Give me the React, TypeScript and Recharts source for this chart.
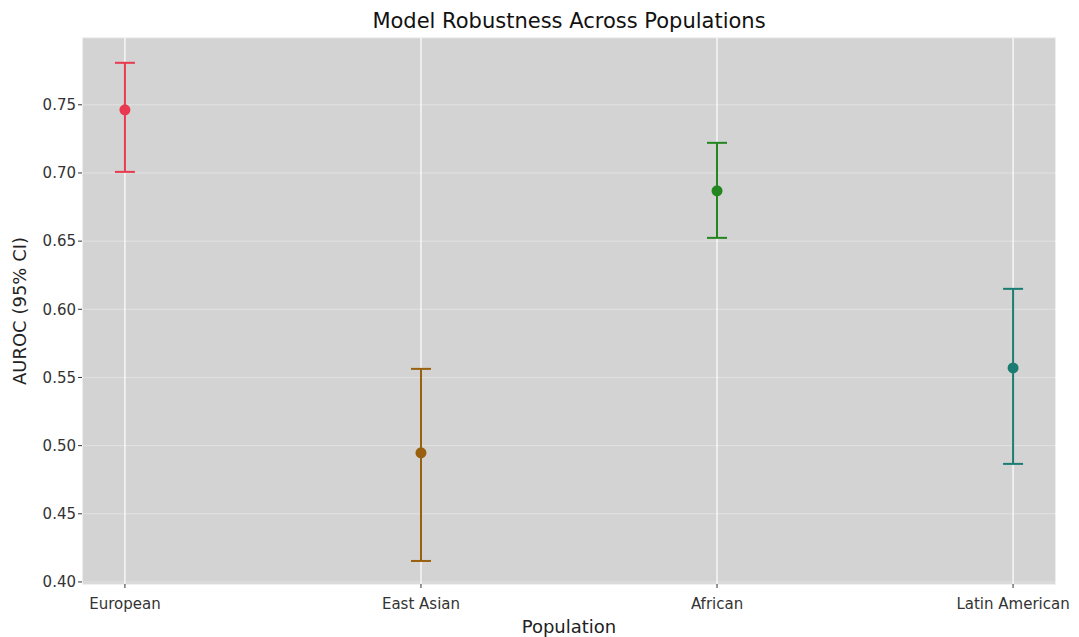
import React from "react";
import {
  ComposedChart,
  Scatter,
  ErrorBar,
  XAxis,
  YAxis,
  CartesianGrid,
  Label,
} from "recharts";

const populations = ["European", "East Asian", "African", "Latin American"];
const auroc = [0.7463, 0.4947, 0.6869, 0.557];
const ciLower = [0.7008, 0.4154, 0.6524, 0.4866];
const ciUpper = [0.7808, 0.5563, 0.7221, 0.615];
const colors = ["#e8394f", "#98600f", "#23861f", "#1b7d72"];
const yTicks = [0.4, 0.45, 0.5, 0.55, 0.6, 0.65, 0.7, 0.75];

const FONT = "'DejaVu Sans', sans-serif";

const series = populations.map((name, i) => ({
  name,
  color: colors[i],
  data: [
    {
      x: i,
      y: auroc[i],
      err: [auroc[i] - ciLower[i], ciUpper[i] - auroc[i]],
    },
  ],
}));

export default function App() {
  return (
    <div
      style={{
        position: "absolute",
        left: 0,
        top: 0,
        width: 1079,
        height: 637,
        background: "#fff",
        fontFamily: FONT,
      }}
    >
      <div
        style={{
          position: "absolute",
          left: 82,
          width: 974,
          top: 9,
          textAlign: "center",
          fontSize: 21,
          color: "#111",
        }}
      >
        Model Robustness Across Populations
      </div>
      <ComposedChart
        width={1079}
        height={637}
        margin={{ top: 38, right: 23, left: 0, bottom: 0 }}
      >
        <CartesianGrid
          fill="#d3d3d3"
          fillOpacity={1}
          stroke="#e2e2e2"
          vertical={false}
        />
        <CartesianGrid stroke="#ffffff" strokeWidth={1.2} horizontal={false} />
        <XAxis
          type="number"
          dataKey="x"
          domain={[-0.145, 3.145]}
          ticks={[0, 1, 2, 3]}
          allowDataOverflow
          tickFormatter={(v: number) => populations[v] ?? ""}
          axisLine={false}
          tickLine={{ stroke: "#333" }}
          tickSize={4}
          height={53}
          tick={{ fill: "#333", fontSize: 15, fontFamily: FONT, dy: 8 }}
        >
          <Label
            value="Population"
            position="insideBottom"
            offset={4}
            style={{ fill: "#222", fontSize: 18, fontFamily: FONT }}
          />
        </XAxis>
        <YAxis
          type="number"
          dataKey="y"
          domain={[0.3985, 0.799]}
          ticks={yTicks}
          allowDataOverflow
          tickFormatter={(v: number) => v.toFixed(2)}
          axisLine={false}
          tickLine={{ stroke: "#333" }}
          tickSize={4}
          width={82}
          tick={{ fill: "#333", fontSize: 15, fontFamily: FONT }}
        >
          <Label
            value="AUROC (95% CI)"
            angle={-90}
            position="insideLeft"
            offset={20}
            style={{
              fill: "#222",
              fontSize: 18,
              fontFamily: FONT,
              textAnchor: "middle",
            }}
          />
        </YAxis>
        {series.map((s) => (
          <Scatter
            key={s.name}
            name={s.name}
            data={s.data}
            fill={s.color}
            isAnimationActive={false}
            shape={(p: any) => (
              <circle cx={p.cx} cy={p.cy} r={5.5} fill={s.color} />
            )}
          >
            <ErrorBar
              dataKey="err"
              direction="y"
              width={10}
              stroke={s.color}
              strokeWidth={2}
              isAnimationActive={false}
            />
          </Scatter>
        ))}
      </ComposedChart>
    </div>
  );
}
